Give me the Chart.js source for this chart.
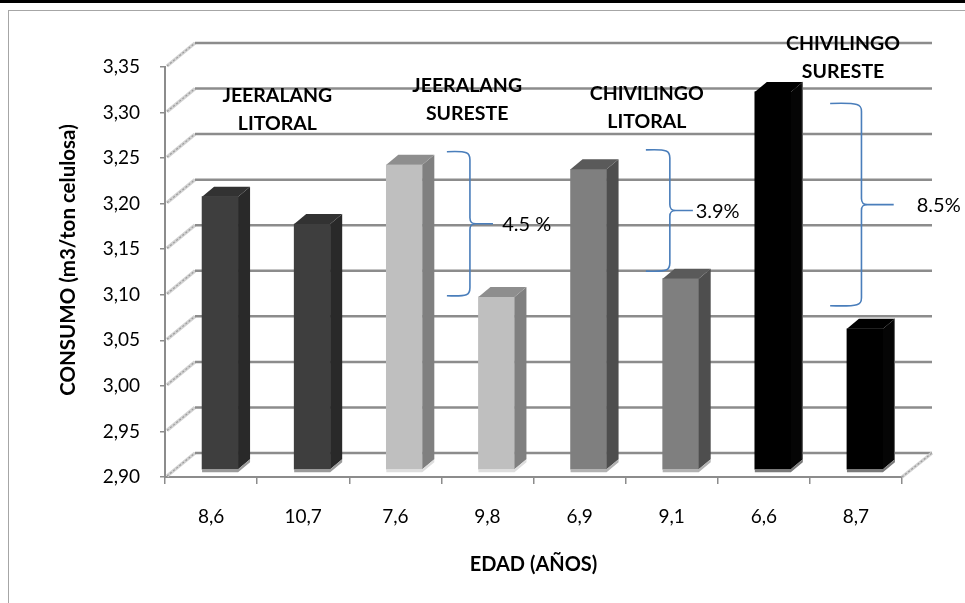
<!DOCTYPE html>
<html>
<head>
<meta charset="utf-8">
<script src="https://cdn.jsdelivr.net/npm/chart.js@4/dist/chart.umd.min.js"></script>
<style>
  html, body { margin: 0; padding: 0; background: #fff; }
  #wrap { position: relative; width: 965px; height: 603px; overflow: hidden; background: #fff; }
  #topRule { position: absolute; left: 0; top: 0; width: 965px; height: 3px; background: #000; }
  #frame { position: absolute; left: 8px; top: 10px; width: 1000px; height: 700px;
           border-left: 1.5px solid #a6a6a6; border-top: 1.5px solid #a6a6a6; }
  canvas { position: absolute; left: 0; top: 0; }
</style>
</head>
<body>
<div id="wrap">
  <div id="topRule"></div>
  <div id="frame"></div>
  <canvas id="chart" width="965" height="603"></canvas>
</div>
<script>
// Age of the plantation (x categories)
const ages = ['8,6', '10,7', '7,6', '9,8', '6,9', '9,1', '6,6', '8,7'];
// Water consumption, m3 per ton of cellulose
const consumo = [3.20, 3.17, 3.235, 3.09, 3.23, 3.11, 3.315, 3.055];
// Value axis ticks
const yTickValues = [2.90, 2.95, 3.00, 3.05, 3.10, 3.15, 3.20, 3.25, 3.30, 3.35];
// Zone names, one per pair of bars
const groupNames = [
  ['JEERALANG', 'LITORAL'],
  ['JEERALANG', 'SURESTE'],
  ['CHIVILINGO', 'LITORAL'],
  ['CHIVILINGO', 'SURESTE']
];
// Difference between the two ages of each zone
const diffLabels = ['4.5 %', '3.9%', '8.5%'];
const yTitle = 'CONSUMO (m3/ton celulosa)';
const xTitle = 'EDAD (AÑOS)';

// ---- layout / style (category units on x, value units on y) ----
const groupLabelPos = [[0.72, 3.319], [2.78, 3.329], [4.73, 3.321], [6.86, 3.376]];
const braceSpans = [   // [xEnd, xSpine, xLineEnd, xText, yTop, yBottom]
  [2.56, 2.81, 3.06, 3.16, 3.257, 3.099],
  [4.72, 4.98, 5.23, 5.26, 3.259, 3.126],
  [6.72, 7.06, 7.41, 7.66, 3.310, 3.088]
];
const BACK = { dx: 30, dy: -24 };       // back wall offset
const SHIFT = { dx: 9, dy: -7 };        // bars sit a little behind the front plane
const BAR_DEPTH = { dx: 12, dy: -10 };  // visible depth of each bar
const palette = {
  front: ['#3e3e3e', '#bfbfbf', '#7f7f7f', '#000000'],
  side:  ['#292929', '#808080', '#4e4e4e', '#050505'],
  top:   ['#323232', '#8e8e8e', '#5a5a5a', '#000000'],
  base:  ['#9a9a9a', '#dedede', '#b2b2b2', '#7a7a7a']
};
const groupOf = i => Math.floor(i / 2);
const FONT = 'Lato';

function strokeLine(ctx, x1, y1, x2, y2) {
  ctx.beginPath(); ctx.moveTo(x1, y1); ctx.lineTo(x2, y2); ctx.stroke();
}
function fillPoly(ctx, pts, color) {
  ctx.beginPath();
  ctx.moveTo(pts[0][0], pts[0][1]);
  for (let k = 1; k < pts.length; k++) ctx.lineTo(pts[k][0], pts[k][1]);
  ctx.closePath();
  ctx.fillStyle = color;
  ctx.fill();
}
function hatchLine(ctx, x1, y1, x2, y2) {
  ctx.save();
  ctx.strokeStyle = '#d2d2d2'; ctx.lineWidth = 3.5;
  strokeLine(ctx, x1, y1, x2, y2);
  ctx.strokeStyle = '#9c9c9c'; ctx.lineWidth = 1.2; ctx.setLineDash([2, 2]);
  strokeLine(ctx, x1, y1, x2, y2);
  ctx.restore();
}
function drawBrace(ctx, xe, xs, xl, yT, yB) {
  const yM = (yT + yB) / 2, r = 6;
  ctx.beginPath();
  ctx.moveTo(xe, yT);
  ctx.bezierCurveTo(xs - 2, yT - 1, xs, yT + 1, xs, yT + r + 2);
  ctx.lineTo(xs, yM - r);
  ctx.bezierCurveTo(xs, yM - 1, xs + 2, yM, xs + r, yM);
  ctx.bezierCurveTo(xs + 2, yM, xs, yM + 1, xs, yM + r);
  ctx.lineTo(xs, yB - r - 2);
  ctx.bezierCurveTo(xs, yB - 1, xs - 2, yB + 1, xe, yB);
  ctx.moveTo(xs + r, yM);
  ctx.lineTo(xl, yM);
  ctx.stroke();
}

const scene3d = {
  id: 'scene3d',
  beforeDatasetsDraw(chart) {
    const { ctx, chartArea: a, scales: { y } } = chart;
    ctx.save();
    yTickValues.forEach(v => {
      const py = y.getPixelForValue(v);
      hatchLine(ctx, a.left + 2, py - 1, a.left + BACK.dx, py + BACK.dy);
      ctx.strokeStyle = '#8c8c8c';
      ctx.lineWidth = 2.5;
      strokeLine(ctx, a.left + BACK.dx, py + BACK.dy, a.right + BACK.dx, py + BACK.dy);
    });
    const pb = y.getPixelForValue(yTickValues[0]);
    hatchLine(ctx, a.right, pb, a.right + BACK.dx, pb + BACK.dy);
    ctx.restore();
    ctx.save();
    ctx.translate(SHIFT.dx, SHIFT.dy);
  },
  afterDatasetsDraw(chart) {
    const { ctx } = chart;
    const meta = chart.getDatasetMeta(0);
    meta.data.forEach((bar, i) => {
      const { x, y, base, width } = bar.getProps(['x', 'y', 'base', 'width'], true);
      const x0 = x - width / 2, x1 = x + width / 2, g = groupOf(i);
      const D = BAR_DEPTH;
      fillPoly(ctx, [[x1, y], [x1 + D.dx, y + D.dy], [x1 + D.dx, base + D.dy], [x1, base]], palette.side[g]);
      fillPoly(ctx, [[x0, y], [x0 + D.dx, y + D.dy], [x1 + D.dx, y + D.dy], [x1, y]], palette.top[g]);
      fillPoly(ctx, [[x0, base], [x1, base], [x1 + D.dx, base + D.dy], [x1 + D.dx, base + D.dy + 3],
                     [x1, base + 3], [x0, base + 3]], palette.base[g]);
      if (g === 3) {
        ctx.strokeStyle = '#6a6a6a'; ctx.lineWidth = 1;
        strokeLine(ctx, x1 + D.dx - 0.5, y + D.dy, x1 + D.dx - 0.5, base + D.dy);
      }
    });
    ctx.restore();

    const { chartArea: a, scales: { x: xs, y: ys } } = chart;
    ctx.save();
    // zone names
    ctx.fillStyle = '#000';
    ctx.font = 'bold 19.5px ' + FONT;
    ctx.textAlign = 'center';
    ctx.textBaseline = 'middle';
    groupNames.forEach((lines, k) => {
      const px = xs.getPixelForValue(groupLabelPos[k][0]);
      const py = ys.getPixelForValue(groupLabelPos[k][1]);
      lines.forEach((t, j) => ctx.fillText(t, px, py + j * 28));
    });
    // braces with percentage differences
    ctx.strokeStyle = '#4a7ebb';
    ctx.lineWidth = 1.6;
    ctx.font = '20px ' + FONT;
    ctx.textAlign = 'left';
    braceSpans.forEach((b, k) => {
      const yT = ys.getPixelForValue(b[4]), yB = ys.getPixelForValue(b[5]);
      drawBrace(ctx, xs.getPixelForValue(b[0]), xs.getPixelForValue(b[1]),
                xs.getPixelForValue(b[2]), yT, yB);
      ctx.fillText(diffLabels[k], xs.getPixelForValue(b[3]), (yT + yB) / 2 + 1);
    });
    // value axis title, centred a little above the middle of the axis
    ctx.font = 'bold 20.5px ' + FONT;
    ctx.textAlign = 'center';
    ctx.translate(a.left - 97, (a.top + a.bottom) / 2 - 12);
    ctx.rotate(-Math.PI / 2);
    ctx.fillText(yTitle, 0, 0);
    ctx.restore();
  }
};

new Chart(document.getElementById('chart'), {
  type: 'bar',
  data: {
    labels: ages,
    datasets: [{
      data: consumo,
      base: yTickValues[0],
      backgroundColor: consumo.map((_, i) => palette.front[groupOf(i)]),
      borderWidth: 0,
      barThickness: 36,
      clip: false
    }]
  },
  options: {
    responsive: false,
    devicePixelRatio: 1,
    animation: false,
    layout: { padding: { top: 67, right: 63, bottom: 0, left: 0 } },
    plugins: { legend: { display: false }, tooltip: { enabled: false } },
    scales: {
      x: {
        afterFit: s => { s.height = 126; },
        grid: { drawOnChartArea: false, drawTicks: true, tickLength: 7, color: '#8c8c8c', lineWidth: 1.5 },
        border: { display: true, color: '#8c8c8c', width: 2 },
        ticks: { color: '#000', font: { family: FONT, size: 19 }, padding: 21 },
        title: { display: true, text: xTitle, color: '#000',
                 font: { family: FONT, size: 20, weight: 'bold' }, padding: { bottom: 26 } }
      },
      y: {
        min: 2.9,
        max: 3.35,
        afterFit: s => { s.width = 165; },
        afterBuildTicks: s => { s.ticks = yTickValues.map(v => ({ value: v })); },
        grid: { drawOnChartArea: false, drawTicks: true, tickLength: 5, color: '#8c8c8c', lineWidth: 1.5 },
        border: { display: true, color: '#8c8c8c', width: 2 },
        ticks: { color: '#000', font: { family: FONT, size: 19 }, padding: 20,
                 callback: v => Number(v).toFixed(2).replace('.', ',') },
        title: { display: false }
      }
    }
  },
  plugins: [scene3d]
});
</script>
</body>
</html>
